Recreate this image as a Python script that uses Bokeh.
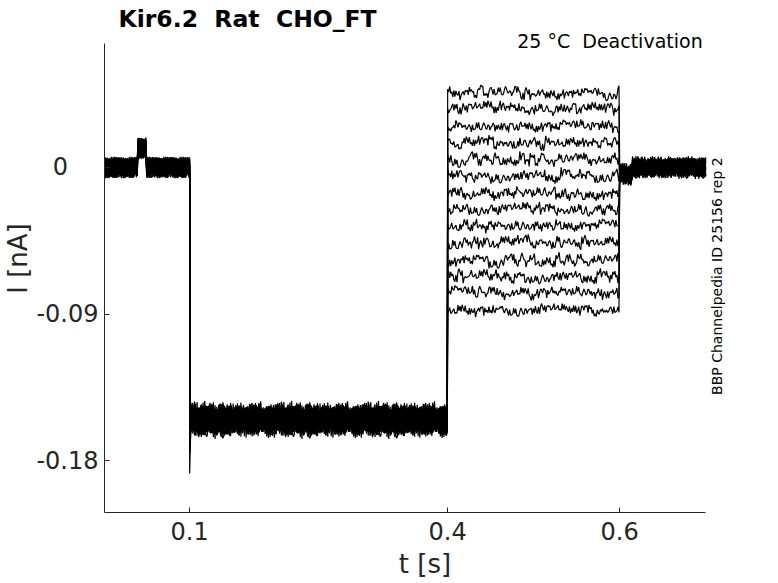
import numpy as np
from bokeh.plotting import figure
from bokeh.models import Range1d, FixedTicker, Label
from bokeh.embed import file_html
from bokeh.resources import INLINE

# ---------------- data ----------------
# voltage-protocol step times [s]
step_times = [0.1, 0.4, 0.6]
t_end = 0.7
# short artefact before the first step [s] and its level [nA]
bump_window = [0.0395, 0.0500]
bump_level = 0.012
# per-sweep current levels [nA]
hold_levels = [-0.153, -0.156, -0.154, -0.157, -0.152, -0.155, -0.158,
               -0.154, -0.156, -0.153, -0.155, -0.157, -0.154, -0.156]
test_levels = [0.046, 0.036, 0.025, 0.015, 0.005, -0.005, -0.016,
               -0.026, -0.036, -0.046, -0.057, -0.067, -0.077, -0.088]
spike_levels = [-0.188, -0.176, -0.172, -0.170, -0.174, -0.169, -0.171,
                -0.173, -0.168, -0.170, -0.172, -0.169, -0.171, -0.170]
tail_early = [-0.004, -0.005, -0.003, -0.006, -0.004, -0.005, -0.003,
              -0.004, -0.006, -0.005, -0.004, -0.003, -0.005, -0.004]
tail_levels = [0.000, 0.001, -0.001, 0.000, 0.001, -0.001, 0.000,
               0.001, 0.000, -0.001, 0.000, 0.001, -0.001, 0.000]
# recorded noise pattern (normalised amplitude)
noise = [0.31, -0.52, 0.84, -0.17, -0.93, 0.45, 0.08, -0.61, 0.72, -0.34,
         0.55, -0.79, 0.21, 0.96, -0.43, -0.12, 0.63, -0.71, 0.02, 0.38,
         -0.88, 0.27, 0.81, -0.49, -0.23, 0.69, -0.58, 0.14, 0.51, -0.36,
         0.92, -0.83, 0.19, -0.41, 0.57, -0.06, -0.74, 0.33, 0.78, -0.54,
         0.04, 0.43, -0.97, 0.61, -0.26, 0.11, -0.64, 0.73, -0.31, 0.49,
         -0.82, 0.89, -0.09, 0.24, -0.46, 0.66, -0.68, 0.29, -0.51, 0.86,
         0.13, -0.28, 0.41, -0.59, 0.94, -0.19, 0.53, -0.77, -0.02, 0.71,
         -0.39, 0.18, -0.91, 0.62, -0.14, 0.35, -0.72, 0.79, -0.47, 0.44,
         -0.21, 0.07, -0.63, 0.87, -0.33, 0.52, -0.84, 0.23, 0.68, -0.42,
         0.01, 0.59, -0.89, 0.34, -0.11, 0.82, -0.56, 0.39, -0.69, 0.16,
         -0.37]
noise_amp = {"base": 0.0068, "hold": 0.0090, "test": 0.0030,
             "test_slow": 0.0024, "tail": 0.0062}

x_ticks = [0.1, 0.4, 0.6]
y_ticks = [0, -0.09, -0.18]
y_tick_labels = {0: "0\u2007\u2007", -0.09: "-0.09", -0.18: "-0.18"}
x_axis_bounds = [0.001, 0.7]
y_axis_bounds = [-0.2119, 0.076]

title_text = "Kir6.2\u00a0\u00a0Rat\u00a0\u00a0CHO_FT"
cond_text = "25 \u00b0C\u00a0\u00a0Deactivation"
side_text = "BBP Channelpedia ID 25156 rep 2"

# ---------------- build sweeps ----------------
nz = np.array(noise)
L = len(nz)


def nsamp(n, k, off, stride=7, hold=1):
    idx = ((np.arange(n) // hold) * stride + k * 23 + off) % L
    return nz[idx]


xs, ys = [], []
for k in range(len(test_levels)):
    t1, t2, t3 = step_times
    ta = np.arange(0.0, t1, 0.001)
    ya = nsamp(len(ta), k, 0) * noise_amp["base"]
    inb = (ta >= bump_window[0]) & (ta < bump_window[1])
    ya = ya + np.where(inb, bump_level, 0.0)
    tsp = np.array([t1, t1 + 0.0008])
    ysp = np.array([spike_levels[k], (spike_levels[k] + hold_levels[k]) / 2])
    tb = np.arange(t1 + 0.0016, t2, 0.001)
    yb = hold_levels[k] + nsamp(len(tb), k, 11) * noise_amp["hold"]
    tc = np.arange(t2, t3, 0.0012)
    yc = (test_levels[k]
          + nsamp(len(tc), k, 37) * noise_amp["test"]
          + nsamp(len(tc), k * 3, 5, stride=13, hold=5) * noise_amp["test_slow"])
    td = np.arange(t3, t_end + 0.0005, 0.001)
    base_d = np.where(td < t3 + 0.015, tail_early[k], tail_levels[k])
    yd = base_d + nsamp(len(td), k, 59) * noise_amp["tail"]
    xs.append(np.concatenate([ta, [t1], tsp, tb, tc, td]).tolist())
    ys.append(np.concatenate([ya, [ya[-1]], ysp, yb, yc, yd]).tolist())

# ---------------- figure ----------------
FONT = "DejaVu Sans"
AX = "#262626"
W, H = 770, 583

p = figure(width=W, height=H, output_backend="svg", toolbar_location=None,
           title_location=None,
           x_range=Range1d(0.001, 0.7463), y_range=Range1d(-0.2119, 0.1001),
           min_border_left=104, min_border_right=W - 745,
           min_border_top=4, min_border_bottom=H - 512)
p.outline_line_color = None
p.xgrid.visible = False
p.ygrid.visible = False
p.background_fill_color = "white"
p.border_fill_color = "white"

p.multi_line(xs, ys, line_color="black", line_width=1.2)

for ax in (p.xaxis[0], p.yaxis[0]):
    ax.axis_line_color = AX
    ax.major_tick_line_color = AX
    ax.major_tick_in = 5
    ax.major_tick_out = 0
    ax.minor_tick_line_color = None
    ax.major_label_text_font = FONT
    ax.major_label_text_color = AX
    ax.major_label_text_font_size = "24px"
    ax.axis_label_text_font = FONT
    ax.axis_label_text_font_size = "26px"
    ax.axis_label_text_font_style = "normal"
    ax.axis_label_text_color = AX

p.xaxis.ticker = FixedTicker(ticks=x_ticks)
p.xaxis.bounds = tuple(x_axis_bounds)
p.xaxis.major_label_standoff = 9
p.xaxis.axis_label = "t [s]"
p.xaxis.axis_label_standoff = 6

p.yaxis.ticker = FixedTicker(ticks=y_ticks)
p.yaxis.bounds = tuple(y_axis_bounds)
p.yaxis.major_label_overrides = y_tick_labels
p.yaxis.major_label_standoff = 6
p.yaxis.axis_label = "I [nA]"
p.yaxis.axis_label_standoff = 0

# title and annotations (inside the extended frame)
p.add_layout(Label(x=x_axis_bounds[0], y=y_axis_bounds[1], x_offset=14, y_offset=25,
                   text=title_text, text_align="left", text_baseline="middle",
                   text_font=FONT, text_font_size="23.5px", text_font_style="bold",
                   text_color="black"))
p.add_layout(Label(x=x_axis_bounds[1], y=y_axis_bounds[1], x_offset=-3, y_offset=3,
                   text=cond_text, text_align="right", text_baseline="middle",
                   text_font=FONT, text_font_size="19px", text_color="black"))
p.add_layout(Label(x=x_axis_bounds[1], y=(y_axis_bounds[0] + y_axis_bounds[1]) / 2,
                   x_offset=11, y_offset=2, text=side_text, angle=np.pi / 2,
                   text_align="center", text_baseline="middle", text_font=FONT,
                   text_font_size="14px", text_color="black"))

open("out.html", "w").write(file_html(p, INLINE))
